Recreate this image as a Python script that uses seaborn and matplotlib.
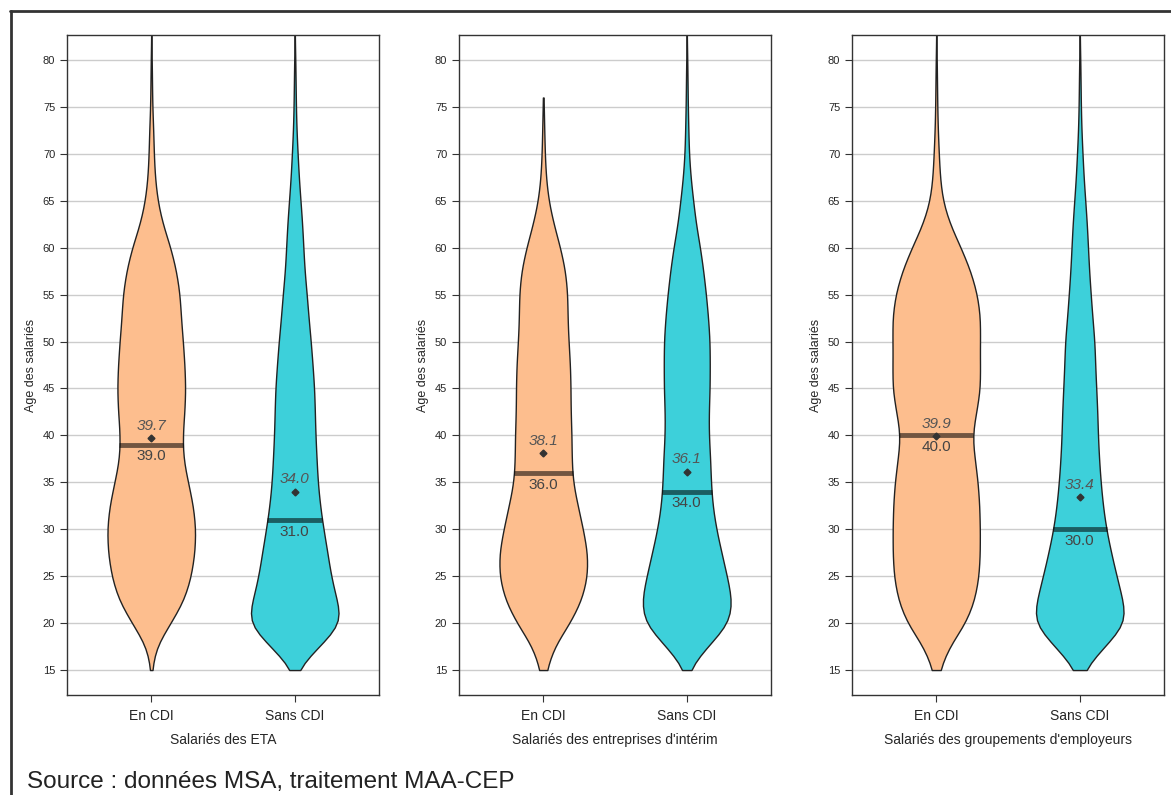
import numpy as np
import pandas as pd
import matplotlib
matplotlib.use("Agg")
import matplotlib.pyplot as plt
from matplotlib.lines import Line2D
import seaborn as sns

ages = [15, 17.5, 20, 22.5, 25, 27.5, 30, 32.5, 35, 37.5, 40, 42.5, 45, 47.5,
        50, 52.5, 55, 57.5, 60, 62.5, 65, 67.5, 70, 72.5, 75, 77.5, 80]

# relative violin widths per age
eta_cdi = [1, 8, 38, 65, 78, 85, 87, 82, 72, 62, 61, 65, 67, 65, 62, 58, 56, 49, 38, 22, 12, 7, 5, 4, 2, 1.5, 1]
eta_sans = [1, 42, 85, 73, 63, 57, 50, 44, 40, 38, 36, 35, 34, 31, 28, 24, 21, 17, 15, 13, 10, 7, 5, 3, 2, 1.5, 1]
int_cdi = [6, 20, 52, 75, 86, 86, 77, 67, 57, 55, 55, 53, 53, 52, 49, 47, 47, 43, 33, 20, 10, 5, 3, 2, 1, 0, 0]
int_sans = [1, 38, 82, 85, 75, 65, 55, 48, 45, 44, 41, 41, 43, 43, 43, 40, 36, 31, 25, 17, 12, 7, 4, 3, 2, 1.5, 1]
ge_cdi = [6, 24, 58, 75, 83, 85, 85, 84, 81, 75, 69, 78, 86, 85, 85, 86, 80, 67, 48, 26, 12, 7, 5, 3, 2, 1.5, 1]
ge_sans = [5, 45, 87, 78, 67, 57, 48, 42, 38, 35, 33, 32, 30, 28, 27, 23, 20, 17, 15, 13, 10, 7, 5, 3, 2, 1.5, 1]

# oldest employee in each group
max_ages = [[90, 90], [76, 90], [90, 90]]

means = [[39.7, 34.0], [38.1, 36.1], [39.9, 33.4]]
medians = [[39.0, 31.0], [36.0, 34.0], [40.0, 30.0]]

contrats = ["En CDI", "Sans CDI"]
panels = ["Salariés des ETA", "Salariés des entreprises d'intérim",
          "Salariés des groupements d'employeurs"]
profiles = [[eta_cdi, eta_sans], [int_cdi, int_sans], [ge_cdi, ge_sans]]

colors = ["#fdbe8e", "#3dd0da"]

sns.set_style("white")
plt.rcParams["font.family"] = ["Liberation Sans", "DejaVu Sans"]

fig = plt.figure(figsize=(11.71, 7.95), dpi=100)
lefts = [67, 459, 852]

for p in range(3):
    ax = fig.add_axes([lefts[p] / 1171, 1 - 695 / 795, 312 / 1171, 660 / 795])
    for g in range(2):
        counts = np.round(np.array(profiles[p][g]) * 20).astype(int)
        vals = np.repeat(ages, counts)
        vals = np.append(vals, max_ages[p][g])
        df = pd.DataFrame({"age": vals, "contrat": contrats[g]})
        bw = 1.7 / df["age"].std()
        sns.violinplot(data=df, x="contrat", y="age", order=contrats,
                       color=colors[g], saturation=1, inner=None, cut=0,
                       density_norm="width", width=0.61, bw_method=bw,
                       linewidth=1, linecolor="#222222", ax=ax)
        # width of the violin at the median
        verts = ax.collections[-1].get_paths()[0].vertices
        right = verts[verts[:, 0] > g]
        order = np.argsort(right[:, 1])
        half = np.interp(medians[p][g], right[order, 1], right[order, 0]) - g
        ax.hlines(medians[p][g], g - half, g + half, color="black",
                  alpha=0.55, lw=3.5, zorder=4)
        ax.plot(g, means[p][g], marker="D", ms=3.5, color="#333333", zorder=5)
        ax.text(g, means[p][g] + 0.6, f"{means[p][g]:.1f}", ha="center",
                va="bottom", fontsize=11, style="italic", color="#555555", zorder=6)
        ax.text(g, medians[p][g] - 0.5, f"{medians[p][g]:.1f}", ha="center",
                va="top", fontsize=11, color="#444444", zorder=6)

    ax.set_xlim(-0.587, 1.587)
    ax.set_ylim(12.34, 82.66)
    ax.set_yticks(range(15, 81, 5))
    ax.yaxis.grid(True, color="#cccccc", lw=1)
    ax.xaxis.grid(False)
    ax.set_axisbelow(True)
    for s in ax.spines.values():
        s.set_color("#333333")
        s.set_linewidth(1)
    ax.tick_params(axis="y", labelsize=8, length=5, width=0.8, color="#333333", left=True)
    ax.tick_params(axis="x", labelsize=10, length=5, width=0.8, color="#333333", bottom=True, pad=5)
    ax.set_ylabel("Age des salariés", fontsize=9)
    ax.set_xlabel(panels[p], fontsize=10, labelpad=7)

# outer frame
fig.add_artist(Line2D([10 / 1171, 1], [1 - 11 / 795, 1 - 11 / 795], color="#333333", lw=2))
fig.add_artist(Line2D([11 / 1171, 11 / 1171], [0, 1 - 11 / 795], color="#333333", lw=2))

fig.text(27 / 1171, 1 - 782 / 795, "Source : données MSA, traitement MAA-CEP",
         fontsize=17.5, color="#222222", va="center", ha="left")

fig.savefig("out.png", dpi=100)
